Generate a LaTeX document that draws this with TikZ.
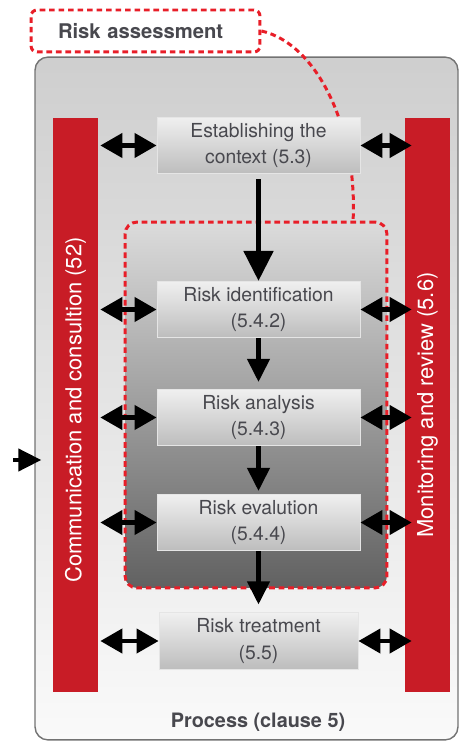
\documentclass[tikz,border=0pt]{standalone}
\usepackage{fontspec}
\setmainfont{TeX Gyre Heros}
\usetikzlibrary{arrows.meta}
\definecolor{riskred}{RGB}{200,28,38}
\definecolor{dashred}{RGB}{232,30,40}
\definecolor{boxtext}{RGB}{72,72,78}
\tikzset{
  processbox/.style={draw=black!55, line width=0.8pt, rounded corners=0.26cm,
    top color=black!19, bottom color=black!2},
  assessbox/.style={draw=dashred, line width=1.7pt, dash pattern=on 3.2pt off 2.2pt,
    rounded corners=0.24cm, top color=black!14, bottom color=black!62},
  riskbox/.style={draw=dashred, line width=1.7pt, dash pattern=on 3.2pt off 2.2pt,
    rounded corners=0.12cm, fill=white, font=\bfseries\fontsize{11.5}{13}\selectfont,
    text=boxtext, text width=3.5cm, inner xsep=0.54cm, align=left, minimum height=0.84cm},
  stepbox/.style={draw=white!90!black, line width=0.5pt, top color=black!6,
    bottom color=black!26, minimum width=4.06cm, minimum height=1.1cm, align=center,
    font=\fontsize{11}{15}\selectfont, text=boxtext},
  sidebar/.style={fill=riskred, rotate=90, minimum width=11.48cm, minimum height=0.9cm,
    inner sep=0pt, text=white, font=\fontsize{12.5}{14}\selectfont},
  flowbig/.style={line width=2.9pt, -{Triangle[length=0.6cm,width=0.58cm]}},
  flow/.style={line width=2.4pt, -{Triangle[length=0.46cm,width=0.44cm]}},
  link/.style={line width=2.4pt,
    {Triangle[length=0.44cm,width=0.48cm]}-{Triangle[length=0.44cm,width=0.48cm]}},
}
\begin{document}
\begin{tikzpicture}[x=0.02cm,y=-0.02cm]
\useasboundingbox (0,0) rectangle (460,742);
\node[processbox, minimum width=8.46cm, minimum height=13.66cm] (process) at (246.5,398.5) {};
\node[font=\bfseries\fontsize{11.3}{13}\selectfont, text=boxtext] (clause) at (258,722) {Process (clause 5)};
\node[assessbox, minimum width=5.24cm, minimum height=7.32cm] (assess) at (256,405) {};
\node[riskbox] (risk) at (145.5,31) {Risk assessment};
\coordinate (joint) at (353,222);
\draw[dashred, line width=1.7pt, dash pattern=on 3.2pt off 2.2pt] (risk.east) .. controls (318,44) and (358,130) .. (joint);
\node[sidebar] (comm) at (75.5,405) {Communication and consultion (52)\hspace*{0.2cm}};
\node[sidebar] (mon) at (427.5,405) {Monitoring and review (5.6)};
\node[stepbox] (context) at (258.5,145.5) {Establishing the\\context (5.3)};
\node[stepbox] (ident) at (258.5,309.5) {Risk identification\\(5.4.2)};
\node[stepbox] (analysis) at (258.5,417.5) {Risk analysis\\(5.4.3)};
\node[stepbox] (evaluation) at (258.5,522.5) {Risk evalution\\(5.4.4)};
\node[stepbox, minimum width=3.98cm, minimum height=1.04cm] (treatment) at (258.5,641) {Risk treatment\\(5.5)};
\draw[flowbig, shorten <=0.1cm] (context.south) -- (ident.north);
\draw[flow, shorten >=0.14cm] (ident.south) -- (analysis.north);
\draw[flow, shorten >=0.06cm] (analysis.south) -- (evaluation.north);
\draw[flow, shorten >=0.16cm] (evaluation.south) -- (treatment.north);
\foreach \s in {context,ident,analysis,evaluation,treatment}{
  \draw[link, shorten >=0.04cm] (\s.west) -- (\s.west -| comm.south);
  \draw[link, shorten >=-0.14cm] (\s.east) -- (\s.east -| mon.north);
}
\coordinate (input) at (13,460);
\draw[flow, shorten >=-0.14cm] (input) -- (input -| process.west);
\end{tikzpicture}
\end{document}
